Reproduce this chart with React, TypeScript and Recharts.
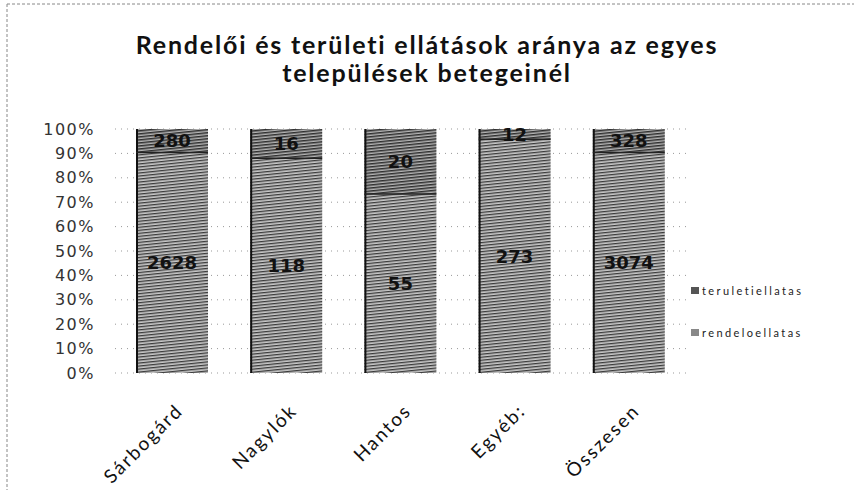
import { BarChart, Bar, XAxis, YAxis, CartesianGrid, LabelList } from "recharts";

const categories = ["Sárbogárd", "Nagylók", "Hantos", "Egyéb:", "Összesen"];
const rendeloellatas = [2628, 118, 55, 273, 3074];
const teruletiellatas = [280, 16, 20, 12, 328];
const yTicks = [0, 0.1, 0.2, 0.3, 0.4, 0.5, 0.6, 0.7, 0.8, 0.9, 1];

const data = categories.map((name, i) => ({
  name,
  rendelo: rendeloellatas[i],
  terulet: teruletiellatas[i],
}));

const FONT = "Lato, 'Open Sans', sans-serif";

// bar segment with the dark left edge seen on the scan
function HatchBar(props: any) {
  const { x, y, width, height, fill, top } = props;
  if (height <= 0) return null;
  return (
    <g>
      <rect x={x} y={y} width={width} height={height} fill={fill} />
      <line x1={x + 1} y1={y} x2={x + 1} y2={y + height} stroke="#111" strokeWidth={2} />
      {top && <line x1={x} y1={y + height} x2={x + width} y2={y + height} stroke="#222" strokeWidth={1.5} />}
    </g>
  );
}

function XTick(props: any) {
  const { x, payload } = props;
  return (
    <g transform={`translate(${x + 12},${412})`}>
      <text transform="rotate(-45)" textAnchor="end" fontFamily={FONT} fontSize={19} letterSpacing={2} fill="#111">
        {payload.value}
      </text>
    </g>
  );
}

function LegendBox() {
  const rows = [
    { label: "teruletiellatas", fill: "#555" },
    { label: "rendeloellatas", fill: "#888" },
  ];
  return (
    <div style={{ position: "absolute", left: 691, top: 269, fontFamily: FONT, fontSize: 11, color: "#222", letterSpacing: 2.4 }}>
      {rows.map((r) => (
        <div key={r.label} style={{ display: "flex", alignItems: "center", height: 42 }}>
          <span style={{ display: "inline-block", width: 8, height: 7, background: r.fill, marginRight: 3 }} />
          {r.label}
        </div>
      ))}
    </div>
  );
}

export default function App() {
  return (
    <div style={{ position: "fixed", left: 0, top: 0, width: 854, height: 490, background: "#fff" }}>
      <svg width={854} height={490} style={{ position: "absolute", left: 0, top: 0 }}>
        <line x1={7} y1={4} x2={854} y2={4} stroke="#888" strokeDasharray="3 2" />
        <line x1={7} y1={4} x2={7} y2={490} stroke="#888" strokeDasharray="3 2" />
        <text x={427} y={54} textAnchor="middle" fontFamily={FONT} fontWeight="bold" fontSize={25} letterSpacing={1.8} fill="#111">
          Rendelői és területi ellátások aránya az egyes
        </text>
        <text x={427} y={82} textAnchor="middle" fontFamily={FONT} fontWeight="bold" fontSize={25} letterSpacing={1.8} fill="#111">
          települések betegeinél
        </text>
      </svg>
      <div style={{ position: "absolute", left: 0, top: 0 }}>
        <BarChart
          width={854}
          height={490}
          data={data}
          stackOffset="expand"
          barSize={72}
          margin={{ top: 129, right: 168, left: 0, bottom: 57 }}
        >
          <defs>
            <pattern id="hatchLow" width="5" height="3" patternUnits="userSpaceOnUse" patternTransform="rotate(-6)">
              <rect width="5" height="3" fill="#c8c8c8" />
              <rect width="5" height="1.3" fill="#3a3a3a" />
            </pattern>
            <pattern id="hatchTop" width="5" height="3" patternUnits="userSpaceOnUse" patternTransform="rotate(-6)">
              <rect width="5" height="3" fill="#b4b4b4" />
              <rect width="5" height="1.5" fill="#2e2e2e" />
            </pattern>
          </defs>
          <CartesianGrid vertical={false} stroke="#999" strokeDasharray="1 5" />
          <XAxis dataKey="name" axisLine={false} tickLine={false} height={60} interval={0} tick={<XTick />} />
          <YAxis
            width={115}
            ticks={yTicks}
            domain={[0, 1]}
            interval={0}
            axisLine={false}
            tickLine={false}
            tickMargin={14}
            tickFormatter={(v: number) => `${Math.round(v * 100)}%`}
            tick={{ fontFamily: "'DejaVu Sans', sans-serif", fontSize: 16, letterSpacing: 1.5, fill: "#333" }}
          />
          <Bar
            dataKey="rendelo"
            name="rendeloellatas"
            stackId="a"
            fill="url(#hatchLow)"
            shape={(p: any) => <HatchBar {...p} />}
            isAnimationActive={false}
          >
            <LabelList
              dataKey="rendelo"
              position="center"
              fill="#111"
              fontFamily="'DejaVu Sans', sans-serif"
              fontWeight="bold"
              fontSize={18}
            />
          </Bar>
          <Bar
            dataKey="terulet"
            name="teruletiellatas"
            stackId="a"
            fill="url(#hatchTop)"
            shape={(p: any) => <HatchBar {...p} top />}
            isAnimationActive={false}
          >
            <LabelList
              dataKey="terulet"
              position="center"
              fill="#111"
              fontFamily="'DejaVu Sans', sans-serif"
              fontWeight="bold"
              fontSize={18}
            />
          </Bar>
        </BarChart>
      </div>
      <LegendBox />
    </div>
  );
}
